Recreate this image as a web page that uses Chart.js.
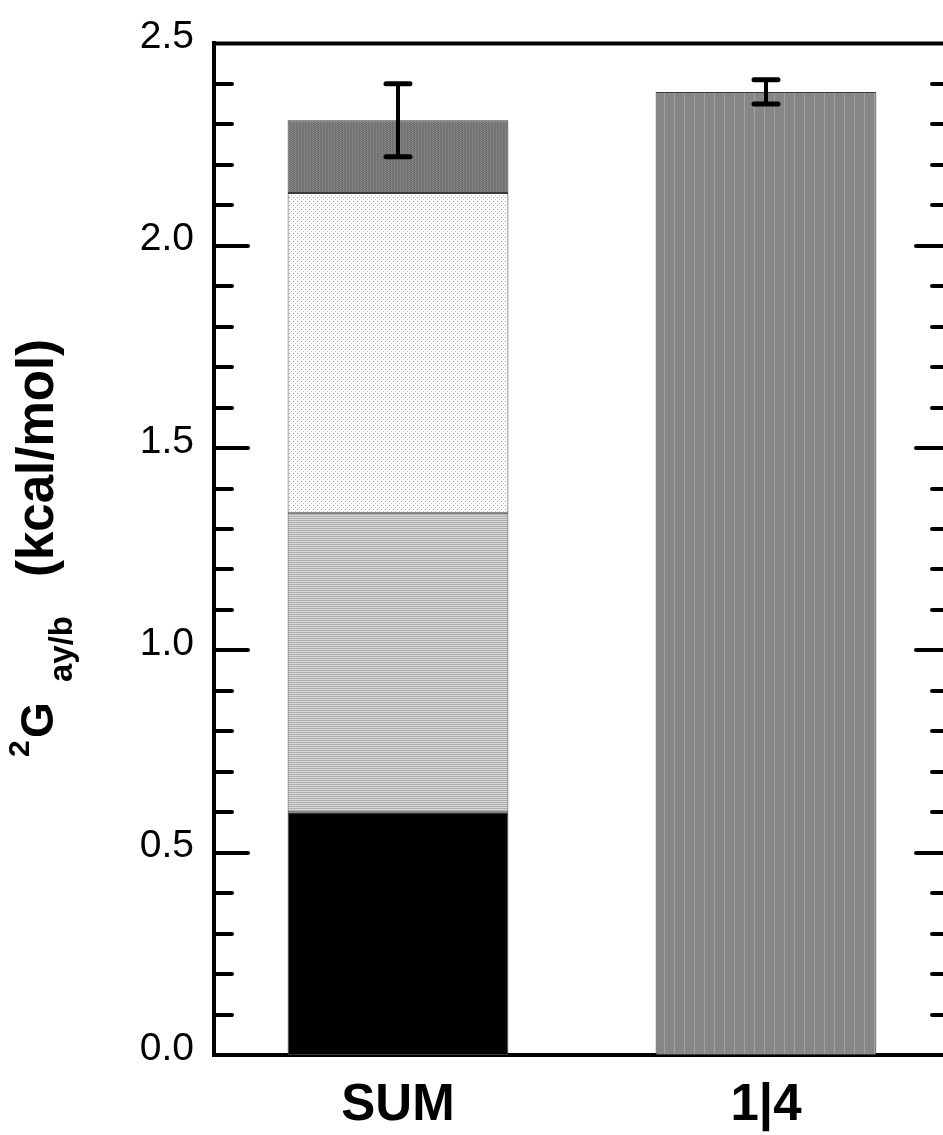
<!DOCTYPE html>
<html>
<head>
<meta charset="utf-8">
<script src="https://cdn.jsdelivr.net/npm/chart.js@4/dist/chart.umd.min.js"></script>
<style>
    html, body { margin: 0; padding: 0; background: #fff; overflow: hidden; }
    #wrap { width: 960px; height: 1135px; }
</style>
</head>
<body>
<div id="wrap"><canvas id="myChart" width="960" height="1135"></canvas></div>
<script>
// values
const categories = ['SUM', '1|4'];
const blackPart = [0.60, null];
const grayPart = [0.74, null];
const dottedPart = [0.79, null];
const darkPart = [0.18, null];
const singleBar = [null, 2.38];
const totals = [2.31, 2.38];
const errors = [0.09, 0.03];
const tickLabels = ['0.0', '0.5', '1.0', '1.5', '2.0', '2.5'];

const FONT = '"Liberation Sans", Arial, Helvetica, sans-serif';

function makePattern(w, h, bg, dots) {
    const c = document.createElement('canvas');
    c.width = w;
    c.height = h;
    const g = c.getContext('2d');
    g.fillStyle = bg;
    g.fillRect(0, 0, w, h);
    dots.forEach(d => {
        g.fillStyle = d[2];
        g.fillRect(d[0], d[1], d[3] || 1, d[4] || 1);
    });
    return g.createPattern(c, 'repeat');
}

const ctx = document.getElementById('myChart');

const grayFill = makePattern(2, 2, '#d6d6d6', [[0, 0, '#aaaaaa'], [1, 0, '#b6b6b6']]);
const dotFill = makePattern(4, 4, '#ffffff', [[1, 1, '#959595'], [3, 3, '#c0c0c0']]);
const darkFill = makePattern(3, 2, '#727272', [[1, 0, '#8e8e8e'], [0, 1, '#7e7e7e']]);
const stripeFill = makePattern(10, 1, '#878787', [[4, 0, '#a2a2a2']]);

const innerTicks = {
    id: 'innerTicks',
    afterDatasetsDraw(chart) {
        const c = chart.ctx;
        const a = chart.chartArea;
        const y = chart.scales.y;
        c.save();
        c.strokeStyle = '#000';
        c.lineWidth = 4;
        c.lineCap = 'round';
        y.ticks.forEach(t => {
            const v = t.value;
            if (v <= 0.001 || v >= 2.499) return;
            const major = Math.abs(v * 2 - Math.round(v * 2)) < 1e-6;
            const len = major ? 34 : 18;
            const py = Math.round(y.getPixelForValue(v));
            c.beginPath();
            c.moveTo(a.left, py);
            c.lineTo(a.left + len, py);
            c.moveTo(a.right, py);
            c.lineTo(a.right - len, py);
            c.stroke();
        });
        // top and right frame
        c.lineCap = 'butt';
        c.beginPath();
        c.moveTo(a.left - 2, a.top);
        c.lineTo(a.right, a.top);
        c.lineTo(a.right, a.bottom);
        c.stroke();

        // error bars
        const x = chart.scales.x;
        totals.forEach((v, i) => {
            const px = x.getPixelForValue(i);
            const hi = y.getPixelForValue(v + errors[i]);
            const lo = y.getPixelForValue(v - errors[i]);
            c.lineWidth = 4;
            c.lineCap = 'butt';
            c.beginPath();
            c.moveTo(px, hi);
            c.lineTo(px, lo);
            c.stroke();
            c.lineWidth = 5;
            c.lineCap = 'round';
            c.beginPath();
            c.moveTo(px - 12, hi);
            c.lineTo(px + 12, hi);
            c.moveTo(px - 12, lo);
            c.lineTo(px + 12, lo);
            c.stroke();
        });
        c.restore();
    }
};

const yTitle = {
    id: 'yTitle',
    afterDraw(chart) {
        const c = chart.ctx;
        c.save();
        c.translate(53, 758);
        c.rotate(-Math.PI / 2);
        c.fillStyle = '#000';
        c.textBaseline = 'alphabetic';
        c.textAlign = 'left';
        c.font = 'bold 30px ' + FONT;
        c.fillText('2', 1, -24);
        c.font = 'bold 46px ' + FONT;
        c.fillText('G', 20, 0);
        c.font = 'bold 33px ' + FONT;
        c.fillText('ay/b', 76, 19);
        c.font = 'bold 51px ' + FONT;
        c.fillText('(kcal/mol)', 181, 0);
        c.restore();
    }
};

const common = {
    borderColor: '#3a3a3a',
    borderWidth: 1,
    borderSkipped: false,
    barPercentage: 0.6,
    categoryPercentage: 1.0
};

new Chart(ctx, {
    type: 'bar',
    data: {
        labels: categories,
        datasets: [
            Object.assign({label: 'a', data: blackPart, backgroundColor: '#000000'}, common),
            Object.assign({label: 'b', data: grayPart, backgroundColor: grayFill}, common),
            Object.assign({label: 'c', data: dottedPart, backgroundColor: dotFill}, common),
            Object.assign({label: 'd', data: darkPart, backgroundColor: darkFill}, common),
            Object.assign({label: 'e', data: singleBar, backgroundColor: stripeFill}, common)
        ]
    },
    options: {
        responsive: false,
        animation: false,
        devicePixelRatio: 1,
        layout: {padding: {top: 30, right: 10, left: 0, bottom: 0}},
        plugins: {
            legend: {display: false},
            tooltip: {enabled: false},
            title: {display: false}
        },
        scales: {
            x: {
                stacked: true,
                grid: {display: false, drawTicks: false},
                border: {display: true, color: '#000', width: 4},
                ticks: {
                    color: '#000',
                    padding: 20,
                    font: {family: FONT, size: 51, weight: 'bold'}
                },
                afterFit: s => { s.height = 80; }
            },
            y: {
                stacked: true,
                min: 0,
                max: 2.5,
                grid: {display: false, drawTicks: false},
                border: {display: true, color: '#000', width: 4},
                ticks: {
                    stepSize: 0.1,
                    autoSkip: false,
                    color: '#000',
                    padding: 20,
                    labelOffset: -6,
                    font: {family: FONT, size: 39},
                    callback: function (v) {
                        const k = Math.round(v * 10);
                        return k % 5 === 0 ? tickLabels[k / 5] : '';
                    }
                },
                afterFit: s => { s.width = 214; }
            }
        }
    },
    plugins: [innerTicks, yTitle]
});
</script>
</body>
</html>
